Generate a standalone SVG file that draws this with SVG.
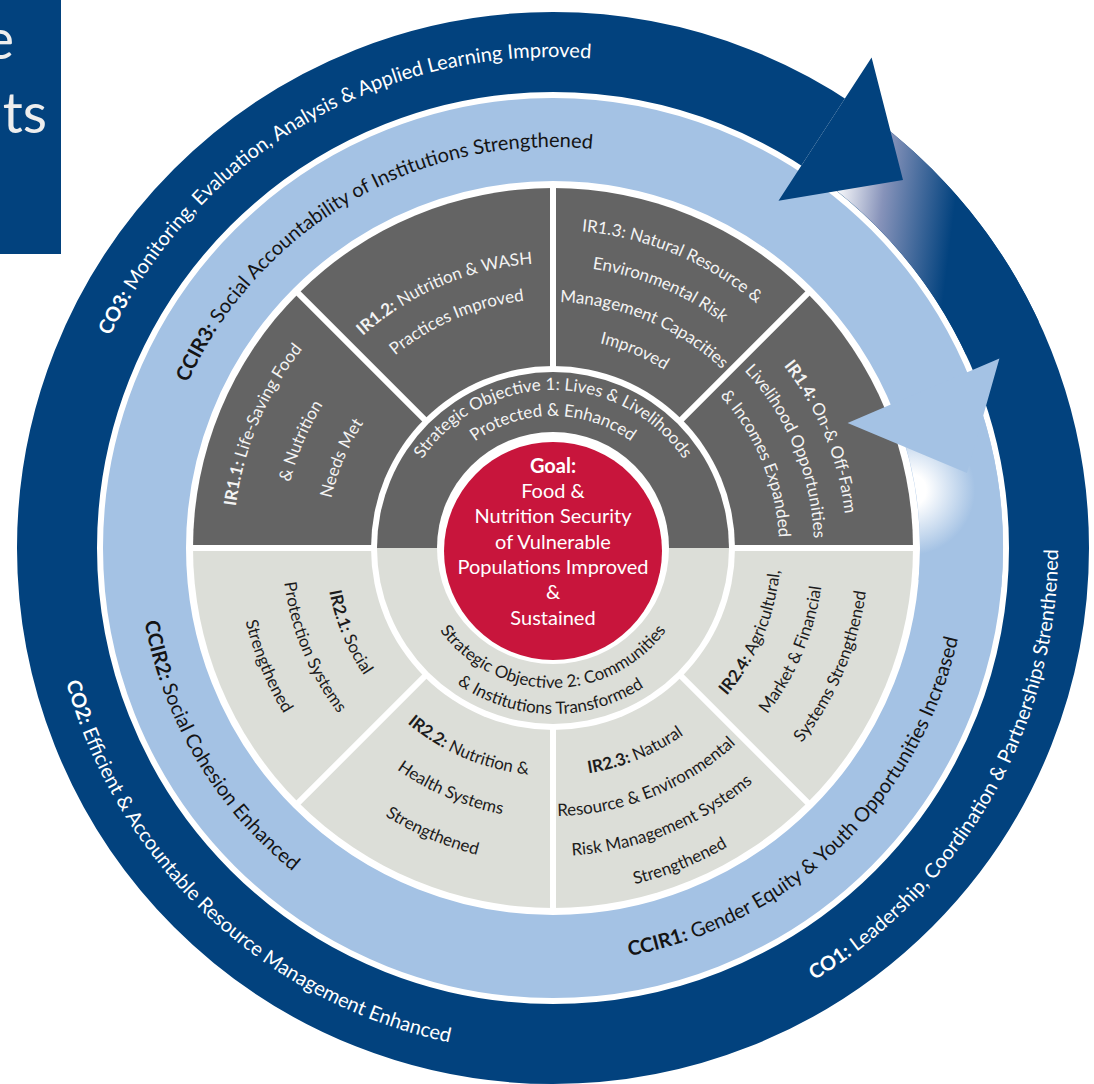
<svg xmlns="http://www.w3.org/2000/svg" width="1094" height="1084" viewBox="0 0 1094 1084">
<defs>
<style>
text{font-family:Lato,'Open Sans','DejaVu Sans',sans-serif}
.b{font-weight:bold}
.tw{fill:#f3f3f3;font-size:17px;text-anchor:middle}
.tk{fill:#1c1c1c;font-size:17px;text-anchor:middle}
.rw{fill:#ffffff;font-size:20px;text-anchor:middle}
.rk{fill:#141414;font-size:20px;text-anchor:middle}
.gl{fill:#ffffff;font-size:20px;text-anchor:middle}
.div{stroke:#ffffff;stroke-width:6}
.dark{fill:#646464}
.light{fill:#dcded8}
</style>
<linearGradient id="darkTail" gradientUnits="userSpaceOnUse" x1="835" y1="190" x2="955" y2="205">
<stop offset="0" stop-color="#ffffff"/><stop offset="0.4" stop-color="#8793ba"/><stop offset="1" stop-color="#02427e"/>
</linearGradient>
<radialGradient id="lightTail" gradientUnits="userSpaceOnUse" cx="910" cy="490" r="65">
<stop offset="0" stop-color="#ffffff"/><stop offset="0.25" stop-color="#ffffff"/><stop offset="1" stop-color="#a4c2e4"/>
</radialGradient>
<path id="t491" d="M 63.87 505.20 A 491 491 0 0 1 1042.13 505.20"/>
<path id="t401" d="M 153.53 513.05 A 401 401 0 0 1 952.47 513.05"/>
<path id="t320" d="M 234.22 520.11 A 320 320 0 0 1 871.78 520.11"/>
<path id="t271" d="M 283.03 524.38 A 271 271 0 0 1 822.97 524.38"/>
<path id="t227" d="M 326.86 528.21 A 227 227 0 0 1 779.14 528.21"/>
<path id="t285" d="M 269.09 523.16 A 285 285 0 0 1 836.91 523.16"/>
<path id="t249" d="M 304.95 526.30 A 249 249 0 0 1 801.05 526.30"/>
<path id="t318" d="M 236.21 520.28 A 318 318 0 0 1 869.79 520.28"/>
<path id="t282" d="M 272.07 523.42 A 282 282 0 0 1 833.93 523.42"/>
<path id="t246" d="M 307.94 526.56 A 246 246 0 0 1 798.06 526.56"/>
<path id="t210" d="M 343.80 529.70 A 210 210 0 0 1 762.20 529.70"/>
<path id="t294" d="M 260.12 522.37 A 294 294 0 0 1 845.88 522.37"/>
<path id="t261" d="M 292.99 525.25 A 261 261 0 0 1 813.01 525.25"/>
<path id="t226" d="M 327.86 528.30 A 226 226 0 0 1 778.14 528.30"/>
<path id="t158" d="M 395.60 534.23 A 158 158 0 0 1 710.40 534.23"/>
<path id="t132" d="M 421.50 536.50 A 132 132 0 0 1 684.50 536.50"/>
<path id="b505" d="M 49.92 592.02 A 505 505 0 0 0 1056.08 592.02"/>
<path id="b415" d="M 139.58 584.17 A 415 415 0 0 0 966.42 584.17"/>
<path id="b140" d="M 413.53 560.20 A 140 140 0 0 0 692.47 560.20"/>
<path id="b166" d="M 387.63 562.47 A 166 166 0 0 0 718.37 562.47"/>
<path id="b228" d="M 325.87 567.87 A 228 228 0 0 0 780.13 567.87"/>
<path id="b271" d="M 283.03 571.62 A 271 271 0 0 0 822.97 571.62"/>
<path id="b316" d="M 238.20 575.54 A 316 316 0 0 0 867.80 575.54"/>
<path id="b268" d="M 286.02 571.36 A 268 268 0 0 0 819.98 571.36"/>
<path id="b308" d="M 246.17 574.85 A 308 308 0 0 0 859.83 574.85"/>
<path id="b346" d="M 208.32 578.16 A 346 346 0 0 0 897.68 578.16"/>
</defs>
<rect width="1094" height="1084" fill="#ffffff"/>

<g id="title">
<rect x="0" y="0" width="61" height="254" fill="#02427e"/>
<text x="14" y="59" font-size="56" fill="#eeeeee" text-anchor="end">e</text>
<text x="47" y="133" font-size="56" fill="#eeeeee" text-anchor="end">ts</text>
</g>

<g id="outer-ring">
<circle cx="553" cy="548" r="496" fill="none" stroke="#02427e" stroke-width="80"/>
<path d="M 844.9 98.5 A 536 536 0 0 1 1038.8 321.5 L 966.3 355.3 A 456 456 0 0 0 801.4 165.6 Z" fill="url(#darkTail)"/>
</g>
<g id="cross-cutting-ring">
<circle cx="553" cy="548" r="408.5" fill="none" stroke="#a4c2e4" stroke-width="83"/>
<path d="M 967.2 372.2 A 450 450 0 0 1 1001.3 587.2 L 918.6 580.0 A 367 367 0 0 0 890.8 404.6 Z" fill="url(#lightTail)"/>
</g>

<g id="segments">
<path class="dark" d="M 193 548 A 360 360 0 0 1 913 548 Z"/>
<path class="light" d="M 193 548 A 360 360 0 0 0 913 548 Z"/>
<line class="div" x1="731" y1="548" x2="917" y2="548"/>
<line class="div" x1="375" y1="548" x2="189" y2="548"/>
<line class="div" x1="553" y1="726" x2="553" y2="912"/>
<line class="div" x1="553" y1="370" x2="553" y2="184"/>
<line class="div" x1="678.9" y1="673.9" x2="810.4" y2="805.4"/>
<line class="div" x1="427.1" y1="673.9" x2="295.6" y2="805.4"/>
<line class="div" x1="427.1" y1="422.1" x2="295.6" y2="290.6"/>
<line class="div" x1="678.9" y1="422.1" x2="810.4" y2="290.6"/>
<circle cx="553" cy="548" r="182" fill="#ffffff"/>
</g>

<g id="so-ring">
<path class="dark" d="M 377 548 A 176 176 0 0 1 729 548 Z"/>
<path class="light" d="M 377 548 A 176 176 0 0 0 729 548 Z"/>
<circle cx="553" cy="548" r="116" fill="#ffffff"/>
</g>

<g id="connectors">
<polygon points="967.2,372.2 999.4,358.5 967,473 847.6,423.0 890.8,404.6" fill="#a4c2e4"/>
<polygon points="844.9,98.5 871.6,57.4 903,180 778.5,200.8 801.4,165.6" fill="#02427e"/>
</g>

<g id="goal">
<circle cx="553" cy="551" r="109" fill="#c8153c"/>
<text class="gl b" x="553" y="473" font-size="21">Goal:</text>
<text class="gl" x="553" y="498">Food &amp;</text>
<text class="gl" x="553" y="523">Nutrition Security</text>
<text class="gl" x="553" y="549">of Vulnerable</text>
<text class="gl" x="553" y="574">Populations Improved</text>
<text class="gl" x="553" y="599">&amp;</text>
<text class="gl" x="553" y="625">Sustained</text>
</g>

<g id="so1">
<text class="tw" fill="#e2e2e2"><textPath href="#t158" startOffset="50%">Strategic Objective 1: Lives &amp; Livelihoods</textPath></text>
<text class="tw"><textPath href="#t132" startOffset="50%">Protected &amp; Enhanced</textPath></text>
</g>
<g id="so2">
<text class="tk"><textPath href="#b140" startOffset="50%">Strategic Objective 2: Communities</textPath></text>
<text class="tk" transform="rotate(1 553 548)"><textPath href="#b166" startOffset="50%">&amp; Institutions Transformed</textPath></text>
</g>

<g id="ir11">
<text class="tw" transform="rotate(-67 553 548)"><textPath href="#t320" startOffset="50%"><tspan class="b">IR1.1:</tspan> Life-Saving Food</textPath></text>
<text class="tw" transform="rotate(-67 553 548)"><textPath href="#t271" startOffset="50%">&amp; Nutrition</textPath></text>
<text class="tw" transform="rotate(-67 553 548)"><textPath href="#t227" startOffset="50%">Needs Met</textPath></text>
</g>
<g id="ir12">
<text class="tw" transform="rotate(-23 553 548)"><textPath href="#t285" startOffset="50%"><tspan class="b">IR1.2:</tspan> Nutrition &amp; WASH</textPath></text>
<text class="tw" transform="rotate(-23 553 548)"><textPath href="#t249" startOffset="50%">Practices Improved</textPath></text>
</g>
<g id="ir13">
<text class="tw" transform="rotate(22.5 553 548)"><textPath href="#t318" startOffset="50%">IR1.3: Natural Resource &amp;</textPath></text>
<text class="tw" transform="rotate(22.5 553 548)"><textPath href="#t282" startOffset="50%">Environmental Risk</textPath></text>
<text class="tw" transform="rotate(22.5 553 548)"><textPath href="#t246" startOffset="50%">Management Capacities</textPath></text>
<text class="tw" transform="rotate(22.5 553 548)"><textPath href="#t210" startOffset="50%">Improved</textPath></text>
</g>
<g id="ir14">
<text class="tw" transform="rotate(67.5 553 548)"><textPath href="#t294" startOffset="50%"><tspan class="b">IR1.4:</tspan> On-&amp; Off-Farm</textPath></text>
<text class="tw" transform="rotate(67.5 553 548)"><textPath href="#t261" startOffset="50%">Livelihood Opportunities</textPath></text>
<text class="tw" transform="rotate(67.5 553 548)"><textPath href="#t226" startOffset="50%">&amp; Incomes Expanded</textPath></text>
</g>

<g id="ir21">
<text class="tk" transform="rotate(67.5 553 548)"><textPath href="#b228" startOffset="50%"><tspan class="b">IR2.1:</tspan> Social</textPath></text>
<text class="tk" transform="rotate(67.5 553 548)"><textPath href="#b271" startOffset="50%">Protection Systems</textPath></text>
<text class="tk" transform="rotate(67.5 553 548)"><textPath href="#b316" startOffset="50%">Strengthened</textPath></text>
</g>
<g id="ir22">
<text class="tk" transform="rotate(23 553 548)"><textPath href="#b228" startOffset="50%"><tspan class="b">IR2.2:</tspan> Nutrition &amp;</textPath></text>
<text class="tk" transform="rotate(23 553 548)"><textPath href="#b271" startOffset="50%">Health Systems</textPath></text>
<text class="tk" transform="rotate(23 553 548)"><textPath href="#b316" startOffset="50%">Strengthened</textPath></text>
</g>
<g id="ir23">
<text class="tk" transform="rotate(-22 553 548)"><textPath href="#b228" startOffset="50%"><tspan class="b">IR2.3:</tspan> Natural</textPath></text>
<text class="tk" transform="rotate(-22 553 548)"><textPath href="#b268" startOffset="50%">Resource &amp; Environmental</textPath></text>
<text class="tk" transform="rotate(-22 553 548)"><textPath href="#b308" startOffset="50%">Risk Management Systems</textPath></text>
<text class="tk" transform="rotate(-22 553 548)"><textPath href="#b346" startOffset="50%">Strengthened</textPath></text>
</g>
<g id="ir24">
<text class="tk" transform="rotate(-67 553 548)"><textPath href="#b228" startOffset="50%"><tspan class="b">IR2.4:</tspan> Agricultural,</textPath></text>
<text class="tk" transform="rotate(-67 553 548)"><textPath href="#b271" startOffset="50%">Market &amp; Financial</textPath></text>
<text class="tk" transform="rotate(-67 553 548)"><textPath href="#b316" startOffset="50%">Systems Strengthened</textPath></text>
</g>

<g id="ccir3">
<text class="rk" transform="rotate(-30 553 548)"><textPath href="#t401" startOffset="50%"><tspan class="b">CCIR3:</tspan> Social Accountability of Institutions Strengthened</textPath></text>
</g>
<g id="ccir2">
<text class="rk" transform="rotate(59.3 553 548)"><textPath href="#b415" startOffset="50%"><tspan class="b">CCIR2:</tspan> Social Cohesion Enhanced</textPath></text>
</g>
<g id="ccir1">
<text class="rk" transform="rotate(-44 553 548)"><textPath href="#b415" startOffset="50%"><tspan class="b">CCIR1:</tspan> Gender Equity &amp; Youth Opportunities Increased</textPath></text>
</g>
<g id="co3">
<text class="rw" transform="rotate(-30 553 548)"><textPath href="#t491" startOffset="50%"><tspan class="b">CO3:</tspan> Monitoring, Evaluation, Analysis &amp; Applied Learning Improved</textPath></text>
</g>
<g id="co2">
<text class="rw" transform="rotate(43.2 553 548)"><textPath href="#b505" startOffset="50%"><tspan class="b">CO2:</tspan> Efficient &amp; Accountable Resource Management Enhanced</textPath></text>
</g>
<g id="co1">
<text class="rw" transform="rotate(-60.5 553 548)"><textPath href="#b505" startOffset="50%"><tspan class="b">CO1:</tspan> Leadership, Coordination &amp; Partnerships Strenthened</textPath></text>
</g>
</svg>
